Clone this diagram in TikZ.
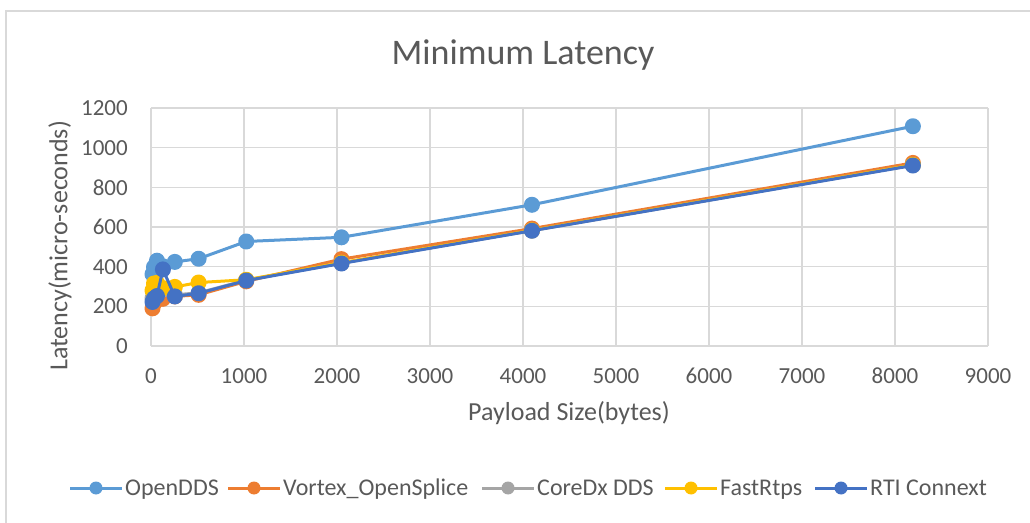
\documentclass[tikz,border=0pt]{standalone}
\usepackage{fontspec}
\setmainfont{Carlito}

\definecolor{txtgray}{HTML}{595959}
\definecolor{gridgray}{HTML}{D9D9D9}
\definecolor{cOpenDDS}{HTML}{5B9BD5}
\definecolor{cVortex}{HTML}{ED7D31}
\definecolor{cCoreDx}{HTML}{A5A5A5}
\definecolor{cFastRtps}{HTML}{FFC000}
\definecolor{cRTI}{HTML}{4472C4}

\tikzset{
  gridline/.style={draw=gridgray, line width=1.4pt},
  ticklabel/.style={text=txtgray, inner sep=0pt, font=\fontsize{23}{27}\selectfont},
  axislabel/.style={text=txtgray, inner sep=0pt, font=\fontsize{26}{30}\selectfont},
  legtext/.style={text=txtgray, inner sep=0pt, anchor=base west, font=\fontsize{24}{28}\selectfont},
  series/.style={line width=3pt, line join=round, mark=*, mark size=6.5pt},
  legline/.style={line width=3pt},
  legmark/.style={circle, inner sep=0pt, minimum size=13pt}
}

\begin{document}
\begin{tikzpicture}[x=1pt,y=1pt]
  \useasboundingbox (0,0) rectangle (1030,522);
  % chart frame, only top and left edges show
  \draw[gridgray, line width=1.4pt] (6,-5) -- (6,511) -- (1040,511);

  % title
  \node[text=txtgray, inner sep=0pt, anchor=base, font=\fontsize{36}{40}\selectfont] (title) at (523,457) {Minimum Latency};

  % plot area: 0..9000 bytes by 0..1200 micro-seconds
  \begin{scope}[shift={(151,176)}, x=0.093pt, y=0.19833pt]
    \foreach \v in {0,200,...,1200}{
      \draw[gridline] (0,\v) -- (9000,\v);
      \node[ticklabel, anchor=east, xshift=-23pt] (ytick\v) at (0,\v) {\v};
    }
    \foreach \v in {0,1000,...,9000}{
      \draw[gridline] (\v,0) -- (\v,1200);
      \node[ticklabel, anchor=north, yshift=-22pt] (xtick\v) at (\v,0) {\v};
    }

    \draw[series, cOpenDDS] plot coordinates {(16,362) (32,398) (64,430) (128,402) (256,424) (512,440) (1024,527) (2048,548) (4096,712) (8192,1108)};
    \draw[series, cVortex] plot coordinates {(16,190) (32,215) (64,232) (128,238) (256,250) (512,258) (1024,326) (2048,438) (4096,592) (8192,923)};
    \draw[series, cCoreDx] plot coordinates {(16,240) (32,255) (64,262) (128,285) (256,258) (512,268) (1024,332) (2048,418) (4096,582) (8192,912)};
    \draw[series, cFastRtps] plot coordinates {(16,280) (32,315) (64,318) (128,292) (256,298) (512,320) (1024,334) (2048,420) (4096,583) (8192,913)};
    \draw[series, cRTI] plot coordinates {(16,222) (32,240) (64,252) (128,386) (256,250) (512,266) (1024,330) (2048,416) (4096,581) (8192,910)};
  \end{scope}

  % axis titles
  \node[axislabel] (xtitle) at (569,109) {Payload Size(bytes)};
  \node[axislabel, rotate=90] (ytitle) at (60,276) {Latency(micro-seconds)};

  % legend
  \draw[legline, cOpenDDS] (70,34) coordinate (ln1) -- ++(52,0) coordinate (ln1e) node[legmark, fill=cOpenDDS, midway] (mk1) {};
  \node[legtext] (lg1) at ([xshift=3pt, yshift=-7.7pt]ln1e) {OpenDDS};
  \draw[legline, cVortex] (228,34) coordinate (ln2) -- ++(52,0) coordinate (ln2e) node[legmark, fill=cVortex, midway] (mk2) {};
  \node[legtext] (lg2) at ([xshift=3pt, yshift=-7.7pt]ln2e) {Vortex\_OpenSplice};
  \draw[legline, cCoreDx] (482,34) coordinate (ln3) -- ++(52,0) coordinate (ln3e) node[legmark, fill=cCoreDx, midway] (mk3) {};
  \node[legtext] (lg3) at ([xshift=3pt, yshift=-7.7pt]ln3e) {CoreDx DDS};
  \draw[legline, cFastRtps] (665,34) coordinate (ln4) -- ++(52,0) coordinate (ln4e) node[legmark, fill=cFastRtps, midway] (mk4) {};
  \node[legtext] (lg4) at ([xshift=3pt, yshift=-7.7pt]ln4e) {FastRtps};
  \draw[legline, cRTI] (815,34) coordinate (ln5) -- ++(52,0) coordinate (ln5e) node[legmark, fill=cRTI, midway] (mk5) {};
  \node[legtext] (lg5) at ([xshift=3pt, yshift=-7.7pt]ln5e) {RTI Connext};
\end{tikzpicture}
\end{document}
